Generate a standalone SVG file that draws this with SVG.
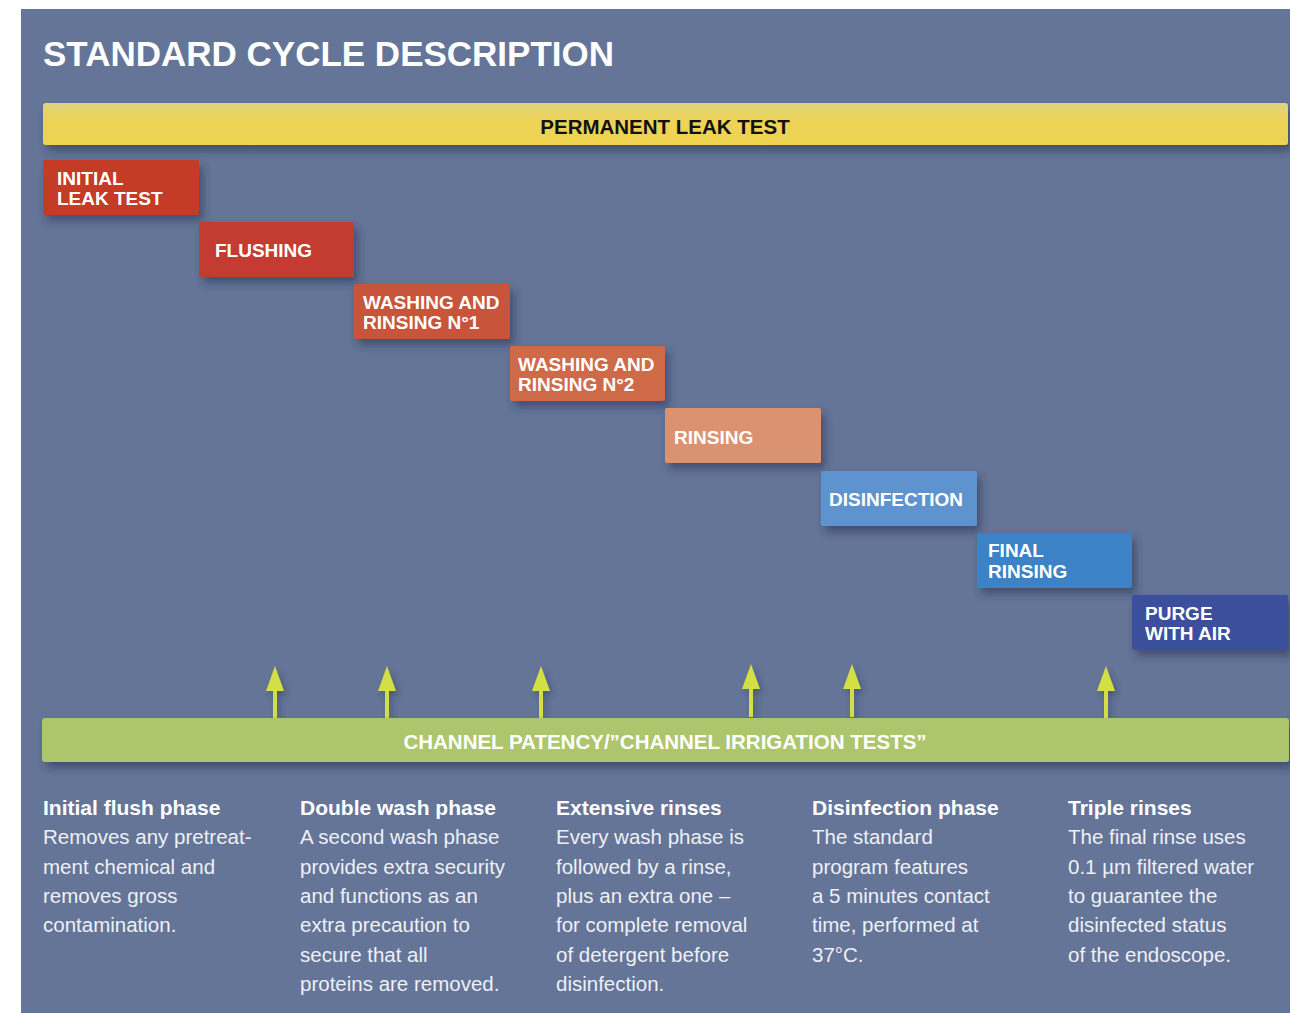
<svg xmlns="http://www.w3.org/2000/svg" width="1290" height="1013" viewBox="0 0 1290 1013">
<style>
.title{font-family:"Liberation Sans",Arial,sans-serif;font-weight:bold;font-size:35px;fill:#fff}
.lbl{font-family:"Liberation Sans",Arial,sans-serif;font-weight:bold;font-size:19px;fill:#fff}
.bar{font-family:"Liberation Sans",Arial,sans-serif;font-weight:bold;font-size:20.5px}
.h{font-family:"Liberation Sans",Arial,sans-serif;font-weight:bold;font-size:21px;fill:#fff}
.b{font-family:"Liberation Sans",Arial,sans-serif;font-size:20.5px;fill:#eef0f5}
.arrow{fill:#d3df45}
</style>
<defs>
<filter id="sh" x="-20%" y="-30%" width="150%" height="180%">
<feDropShadow dx="4" dy="6" stdDeviation="4" flood-color="#2a3350" flood-opacity="0.55"/>
</filter>
<filter id="sha" x="-100%" y="-20%" width="300%" height="160%">
<feDropShadow dx="3" dy="4" stdDeviation="3" flood-color="#2a3350" flood-opacity="0.45"/>
</filter>
<linearGradient id="yg" x1="0" y1="0" x2="0" y2="1">
<stop offset="0" stop-color="#ded382"/>
<stop offset="0.35" stop-color="#ecd359"/>
<stop offset="1" stop-color="#efd350"/>
</linearGradient>
</defs>
<rect x="0" y="0" width="1290" height="1013" fill="#ffffff"/>
<rect x="21" y="9" width="1269" height="1004" fill="#647598"/>
<text class="title" x="43" y="66">STANDARD CYCLE DESCRIPTION</text>

<g id="permanent-leak-test">
<rect x="43" y="103" width="1245" height="42" rx="3" fill="url(#yg)" filter="url(#sh)"/>
<text class="bar" x="665" y="134" text-anchor="middle" fill="#111">PERMANENT LEAK TEST</text>
</g>

<g id="initial-leak-test">
<rect x="43" y="160" width="156" height="55" rx="2" fill="#c43a27" filter="url(#sh)"/>
<text class="lbl" x="57" y="185">INITIAL</text>
<text class="lbl" x="57" y="205">LEAK TEST</text>
</g>
<g id="flushing">
<rect x="199" y="222" width="155" height="55" rx="2" fill="#c43a30" filter="url(#sh)"/>
<text class="lbl" x="215" y="257">FLUSHING</text>
</g>
<g id="washing-1">
<rect x="354" y="284" width="156" height="55" rx="2" fill="#c8553b" filter="url(#sh)"/>
<text class="lbl" x="363" y="309">WASHING AND</text>
<text class="lbl" x="363" y="329">RINSING N°1</text>
</g>
<g id="washing-2">
<rect x="510" y="346" width="155" height="55" rx="2" fill="#cf6a48" filter="url(#sh)"/>
<text class="lbl" x="518" y="371">WASHING AND</text>
<text class="lbl" x="518" y="391">RINSING N°2</text>
</g>
<g id="rinsing">
<rect x="665" y="408" width="156" height="55" rx="2" fill="#db9270" filter="url(#sh)"/>
<text class="lbl" x="674" y="444">RINSING</text>
</g>
<g id="disinfection">
<rect x="821" y="471" width="156" height="55" rx="2" fill="#5e93cf" filter="url(#sh)"/>
<text class="lbl" x="829" y="506">DISINFECTION</text>
</g>
<g id="final-rinsing">
<rect x="977" y="533" width="155" height="55" rx="2" fill="#3a82c6" filter="url(#sh)"/>
<text class="lbl" x="988" y="557">FINAL</text>
<text class="lbl" x="988" y="578">RINSING</text>
</g>
<g id="purge-with-air">
<rect x="1132" y="595" width="156" height="55" rx="2" fill="#3a4f9d" filter="url(#sh)"/>
<text class="lbl" x="1145" y="620">PURGE</text>
<text class="lbl" x="1145" y="640">WITH AIR</text>
</g>

<g id="connectors" class="arrow" filter="url(#sha)">
<path d="M273,718 V691 H266 L275,666 L284,691 H277 V718 Z"/>
<path d="M385,718 V691 H378 L387,666 L396,691 H389 V718 Z"/>
<path d="M539,718 V691 H532 L541,666 L550,691 H543 V718 Z"/>
<path d="M749,717 V689 H742 L751,664 L760,689 H753 V717 Z"/>
<path d="M850,717 V689 H843 L852,664 L861,689 H854 V717 Z"/>
<path d="M1104,718 V691 H1097 L1106,666 L1115,691 H1108 V718 Z"/>
</g>

<g id="channel-patency">
<rect x="42" y="718" width="1247" height="44" rx="3" fill="#adc56d" filter="url(#sh)"/>
<text class="bar" x="665" y="749" text-anchor="middle" fill="#fff">CHANNEL PATENCY/”CHANNEL IRRIGATION TESTS”</text>
</g>

<g id="col1">
<text class="h" x="43" y="815">Initial flush phase</text>
<text class="b" x="43" y="844">Removes any pretreat-</text>
<text class="b" x="43" y="874">ment chemical and</text>
<text class="b" x="43" y="903">removes gross</text>
<text class="b" x="43" y="932">contamination.</text>
</g>
<g id="col2">
<text class="h" x="300" y="815">Double wash phase</text>
<text class="b" x="300" y="844">A second wash phase</text>
<text class="b" x="300" y="874">provides extra security</text>
<text class="b" x="300" y="903">and functions as an</text>
<text class="b" x="300" y="932">extra precaution to</text>
<text class="b" x="300" y="962">secure that all</text>
<text class="b" x="300" y="991">proteins are removed.</text>
</g>
<g id="col3">
<text class="h" x="556" y="815">Extensive rinses</text>
<text class="b" x="556" y="844">Every wash phase is</text>
<text class="b" x="556" y="874">followed by a rinse,</text>
<text class="b" x="556" y="903">plus an extra one –</text>
<text class="b" x="556" y="932">for complete removal</text>
<text class="b" x="556" y="962">of detergent before</text>
<text class="b" x="556" y="991">disinfection.</text>
</g>
<g id="col4">
<text class="h" x="812" y="815">Disinfection phase</text>
<text class="b" x="812" y="844">The standard</text>
<text class="b" x="812" y="874">program features</text>
<text class="b" x="812" y="903">a 5 minutes contact</text>
<text class="b" x="812" y="932">time, performed at</text>
<text class="b" x="812" y="962">37°C.</text>
</g>
<g id="col5">
<text class="h" x="1068" y="815">Triple rinses</text>
<text class="b" x="1068" y="844">The final rinse uses</text>
<text class="b" x="1068" y="874">0.1 µm filtered water</text>
<text class="b" x="1068" y="903">to guarantee the</text>
<text class="b" x="1068" y="932">disinfected status</text>
<text class="b" x="1068" y="962">of the endoscope.</text>
</g>
</svg>
